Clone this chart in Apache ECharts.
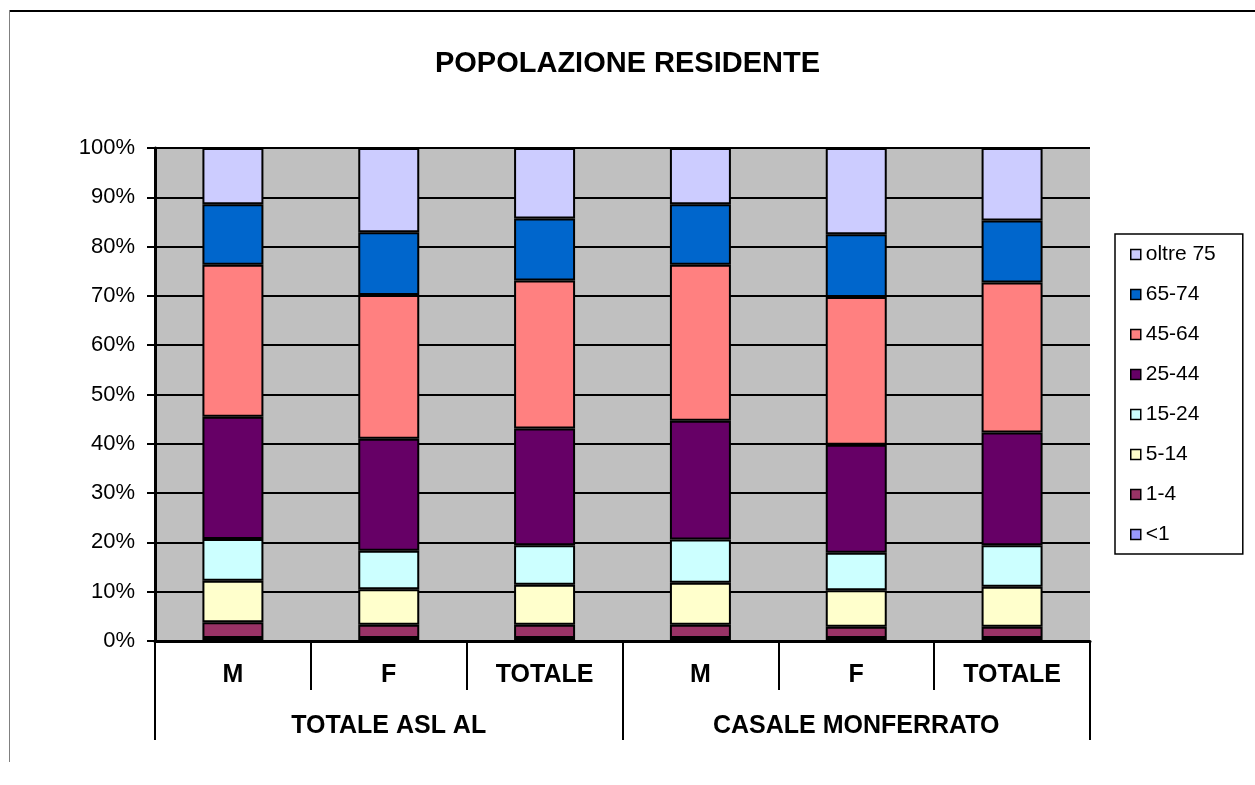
<!DOCTYPE html>
<html>
<head>
<meta charset="utf-8">
<script src="https://cdn.jsdelivr.net/npm/echarts@6/dist/echarts.min.js"></script>
<style>
  html, body { margin: 0; padding: 0; background: #fff; }
  #chart { width: 1255px; height: 785px; }
</style>
</head>
<body>
<div id="chart"></div>
<script>
  // categorie (due livelli)
  var categorie = ['M', 'F', 'TOTALE', 'M', 'F', 'TOTALE'];
  var gruppi = ['TOTALE ASL AL', 'CASALE MONFERRATO'];
  var fasce = ['<1', '1-4', '5-14', '15-24', '25-44', '45-64', '65-74', 'oltre 75'];

  // percentuali per fascia d'eta (dal basso verso l'alto)
  var meno1   = [0.6, 0.6, 0.6, 0.6, 0.6, 0.6];
  var da1a4   = [3.2, 2.7, 2.7, 2.7, 2.3, 2.3];
  var da5a14  = [8.4, 7.2, 8.1, 8.5, 7.4, 8.1];
  var da15a24 = [8.5, 7.8, 8.0, 8.8, 7.6, 8.4];
  var da25a44 = [24.8, 22.7, 23.7, 24.1, 21.9, 22.9];
  var da45a64 = [30.8, 29.2, 30.0, 31.6, 30.0, 30.4];
  var da65a74 = [12.3, 12.7, 12.6, 12.3, 12.7, 12.6];
  var oltre75 = [11.4, 17.1, 14.3, 11.4, 17.5, 14.7];

  var valori = [meno1, da1a4, da5a14, da15a24, da25a44, da45a64, da65a74, oltre75];
  var colori = ['#9999FF', '#993366', '#FFFFCC', '#CCFFFF', '#660066', '#FF8080', '#0066CC', '#CCCCFF'];

  var font = "'Liberation Sans', Arial, sans-serif";

  var series = [];
  for (var i = 0; i < fasce.length; i++) {
    series.push({
      name: fasce[i],
      type: 'bar',
      stack: 'tot',
      barWidth: 61,
      xAxisIndex: 0,
      itemStyle: {
        color: colori[i],
        borderColor: '#000',
        borderWidth: 2
      },
      data: valori[i]
    });
  }

  var chart = echarts.init(document.getElementById('chart'));
  chart.setOption({
    backgroundColor: '#ffffff',
    animation: false,
    textStyle: { fontFamily: font },
    title: {
      text: 'POPOLAZIONE RESIDENTE',
      left: 'center',
      top: 44,
      textStyle: { fontFamily: font, fontSize: 29, fontWeight: 'bold', color: '#000' }
    },
    graphic: [
      { type: 'line', shape: { x1: 9, y1: 11, x2: 1255, y2: 11 }, style: { stroke: '#000', lineWidth: 2 } },
      { type: 'line', shape: { x1: 9.5, y1: 10, x2: 9.5, y2: 762 }, style: { stroke: '#808080', lineWidth: 1 } }
    ],
    grid: {
      left: 155,
      right: 165,
      top: 148,
      bottom: 144,
      show: true,
      backgroundColor: '#C0C0C0',
      borderWidth: 0
    },
    legend: {
      orient: 'vertical',
      left: 1115,
      top: 234,
      data: fasce.slice().reverse(),
      icon: 'rect',
      itemWidth: 10,
      itemHeight: 10,
      itemGap: 19,
      padding: [10, 27, 9, 15],
      borderColor: '#000',
      borderWidth: 1.5,
      itemStyle: { borderColor: '#000', borderWidth: 1.5 },
      textStyle: { fontFamily: font, fontSize: 21, color: '#000' }
    },
    xAxis: [{
      type: 'category',
      data: categorie,
      position: 'bottom',
      axisLine: { lineStyle: { color: '#000', width: 3 } },
      axisTick: { show: true, interval: 0, length: 49, lineStyle: { color: '#000', width: 2 } },
      axisLabel: { interval: 0, margin: 22, fontFamily: font, fontSize: 25, fontWeight: 'bold', color: '#000' },
      splitLine: { show: false }
    }, {
      type: 'category',
      data: gruppi,
      position: 'bottom',
      axisLine: { show: false },
      axisTick: { show: true, interval: 0, length: 99, lineStyle: { color: '#000', width: 2 } },
      axisLabel: { interval: 0, margin: 73, fontFamily: font, fontSize: 25, fontWeight: 'bold', color: '#000' },
      splitLine: { show: false }
    }],
    yAxis: {
      type: 'value',
      min: 0,
      max: 100,
      interval: 10,
      axisLine: { show: true, lineStyle: { color: '#000', width: 3 } },
      axisTick: { show: true, length: 8, lineStyle: { color: '#000', width: 2 } },
      axisLabel: { formatter: '{value}%', margin: 20, fontFamily: font, fontSize: 22, color: '#000' },
      splitLine: { show: true, lineStyle: { color: '#000', width: 2 } }
    },
    series: series
  });
</script>
</body>
</html>
